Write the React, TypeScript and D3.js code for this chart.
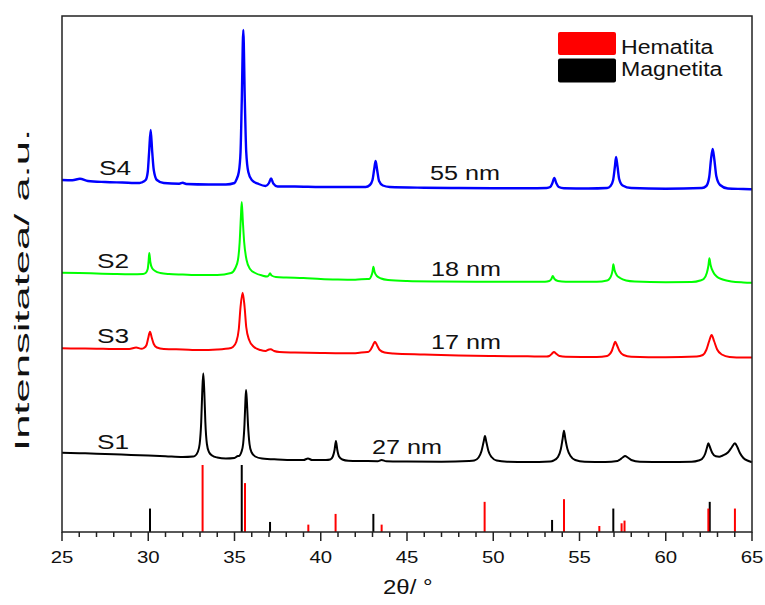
import React from "react";
import * as d3 from "d3";

// XRD patterns (2θ in degrees, intensity in a.u., stacked with offsets)
const s4: [number, number][] = [
  [25.0, 352], [25.6, 351.8], [26.04, 353.2], [26.5, 351], [27.5, 350], [28.5, 349.5], [29.5, 349],
  [29.6, 349.5], [29.85, 352], [29.97, 360], [30.05, 380], [30.14, 402], [30.23, 380], [30.32, 362], [30.5, 352], [30.9, 349],
  [31.8, 348.3], [32.0, 349.3], [32.2, 348], [33.5, 347.5], [34.5, 347.5], [35.0, 349],
  [35.1, 352], [35.25, 360], [35.35, 380], [35.42, 430], [35.51, 502], [35.6, 430], [35.68, 380], [35.8, 360], [36.0, 352], [36.4, 348],
  [36.8, 346], [37.0, 349], [37.12, 353.5], [37.25, 348.5], [37.5, 345.5],
  [38.5, 345.5], [40.0, 345], [41.5, 345], [42.6, 345],
  [42.85, 347], [43.0, 352], [43.1, 363], [43.18, 371], [43.27, 362], [43.38, 351], [43.6, 346.5], [44.0, 345],
  [46.0, 344.3], [48.0, 344], [50.0, 343.8], [52.0, 343.7], [53.1, 344],
  [53.3, 345], [53.43, 349], [53.54, 354], [53.65, 349], [53.8, 345], [54.1, 343.8],
  [55.5, 343.5], [56.6, 344],
  [56.8, 346], [56.95, 352], [57.05, 365], [57.12, 375], [57.2, 366], [57.3, 353], [57.5, 346.5], [58.0, 344],
  [60.0, 343.3], [62.1, 344],
  [62.35, 346], [62.52, 355], [62.62, 372], [62.72, 383], [62.82, 372], [62.93, 356], [63.15, 347], [63.6, 343.5],
  [64.5, 343], [65.0, 342.7],
];

const s2: [number, number][] = [
  [25.0, 259.3], [26.0, 259], [27.0, 258.5], [28.0, 258], [29.0, 257.7], [29.7, 258],
  [29.85, 259], [29.97, 263], [30.02, 271], [30.06, 279], [30.12, 270], [30.22, 264], [30.4, 261], [30.7, 259], [31.2, 258],
  [32.0, 257.5], [33.0, 257], [34.0, 257], [34.8, 259],
  [35.05, 264], [35.2, 272], [35.3, 290], [35.37, 315], [35.42, 330], [35.48, 312], [35.56, 290], [35.7, 272], [35.9, 263], [36.2, 259], [36.6, 256.5],
  [36.9, 255.5], [37.0, 257], [37.06, 258.7], [37.15, 256.5], [37.4, 255],
  [38.0, 254.5], [39.0, 254], [40.0, 253], [41.0, 252.5], [42.0, 252.3], [42.7, 253],
  [42.8, 253], [42.93, 256], [43.0, 260], [43.05, 265.3], [43.12, 260], [43.25, 256], [43.5, 253.5], [43.9, 252],
  [45.0, 251], [47.0, 250.5], [49.0, 250.3], [51.0, 250.3], [53.0, 250.3],
  [53.25, 251], [53.37, 253], [53.45, 256], [53.55, 253], [53.75, 251], [54.2, 250.3],
  [56.0, 250.3], [56.6, 251.5],
  [56.7, 252.5], [56.85, 257], [56.92, 262], [56.96, 267.7], [57.03, 262], [57.15, 257], [57.35, 254], [57.7, 251.5], [58.2, 250.5],
  [60.0, 249.8], [61.5, 250], [62.0, 251.5],
  [62.2, 253], [62.38, 259], [62.47, 266], [62.53, 273.7], [62.6, 267], [62.75, 260], [62.95, 255.5], [63.3, 252.5], [63.8, 250.5],
  [64.5, 249.6], [65.0, 249.3],
];

const s3: [number, number][] = [
  [25.0, 183.7], [26.0, 183.5], [27.0, 183.3], [28.0, 183], [28.9, 183], [29.3, 184.5], [29.6, 183.2],
  [29.75, 184], [29.9, 187], [30.0, 194], [30.1, 200.3], [30.2, 194.5], [30.32, 188], [30.5, 184.5], [30.9, 183],
  [32.0, 182.5], [33.0, 182], [34.0, 182.5], [34.8, 184],
  [34.9, 185], [35.1, 190], [35.25, 203], [35.35, 225], [35.47, 239.3], [35.58, 226], [35.68, 205], [35.85, 192], [36.1, 185.5], [36.5, 182],
  [36.8, 181], [37.0, 182.5], [37.1, 182.7], [37.3, 181], [37.6, 180],
  [38.5, 179.5], [40.0, 179], [41.0, 178.8], [42.0, 178.8], [42.7, 180],
  [42.75, 180], [42.9, 182.5], [43.02, 186.5], [43.14, 190.3], [43.27, 186.5], [43.42, 182], [43.7, 179.5], [44.2, 178.5],
  [46.0, 177.5], [48.0, 176.5], [50.0, 176], [52.0, 175.7], [53.1, 175.5],
  [53.25, 176], [53.4, 178.3], [53.52, 180], [53.65, 178.3], [53.85, 176], [54.2, 175.3],
  [56.0, 175], [56.6, 176],
  [56.7, 177], [56.87, 181], [56.97, 186], [57.07, 190.3], [57.18, 186.5], [57.32, 181], [57.55, 177], [58.0, 175.3],
  [60.0, 174.8], [61.8, 175.5],
  [62.15, 177], [62.35, 182], [62.52, 191], [62.66, 197], [62.8, 191], [62.98, 182.5], [63.25, 177.5], [63.7, 175],
  [64.5, 174.5], [65.0, 174.5],
];

const s1: [number, number][] = [
  [25.0, 79.3], [26.0, 78.8], [27.0, 78.3], [28.0, 77.7], [29.0, 77], [30.0, 76.5], [31.0, 75.8], [32.0, 75], [32.6, 75.5],
  [32.7, 76], [32.87, 80], [32.98, 88], [33.07, 110], [33.13, 140], [33.19, 158.7], [33.25, 140], [33.31, 110], [33.4, 88], [33.52, 80], [33.7, 76.5], [34.0, 74.5],
  [34.5, 73.5], [35.0, 74], [35.2, 76],
  [35.25, 76], [35.4, 80], [35.5, 88], [35.58, 108], [35.63, 130], [35.67, 142], [35.72, 130], [35.78, 108], [35.87, 88], [35.98, 80], [36.2, 75.5], [36.6, 73.5],
  [37.5, 72.5], [38.5, 72], [39.0, 72], [39.26, 73.5], [39.5, 72], [40.3, 72],
  [40.55, 72.5], [40.7, 75.5], [40.8, 82], [40.88, 91], [40.96, 82], [41.06, 75.5], [41.25, 72.5], [41.6, 71.3],
  [42.5, 71], [43.3, 70.8], [43.53, 72], [43.8, 70.8], [45.0, 70.5], [47.0, 70.3], [48.6, 71],
  [48.9, 71.5], [49.15, 74.5], [49.32, 81], [49.44, 90], [49.52, 96], [49.6, 90], [49.72, 81], [49.9, 75], [50.2, 71.5], [50.8, 70.3],
  [52.0, 70], [53.3, 70.5],
  [53.5, 71.5], [53.75, 75], [53.92, 83], [54.02, 93], [54.1, 101.3], [54.18, 93], [54.3, 83], [54.48, 76], [54.75, 72], [55.3, 70.3],
  [56.5, 70], [57.2, 71],
  [57.35, 72.5], [57.5, 74.5], [57.64, 76], [57.8, 74.5], [58.0, 72], [58.5, 70.3],
  [60.0, 70], [61.5, 70.3], [61.9, 71.5],
  [62.1, 73], [62.28, 78], [62.4, 85], [62.47, 88.7], [62.56, 85], [62.7, 79], [62.9, 75.7], [63.1, 75.3],
  [63.3, 76.5], [63.6, 79.5], [63.82, 84.5], [64.01, 88.7], [64.15, 85], [64.3, 79], [64.5, 74], [64.8, 71], [65.0, 69.7],
];

// Reference stick patterns (2θ, relative intensity %)
const hematitaPos = [33.15, 35.61, 39.28, 40.86, 43.53, 49.5, 54.1, 56.15, 57.44, 57.61, 62.47, 64.01];
const hematitaRel = [100, 73, 11, 27, 11, 45, 49, 9, 13, 17, 35, 35];
const magnetitaPos = [30.1, 35.42, 37.06, 43.05, 53.41, 56.96, 62.55];
const magnetitaRel = [35, 100, 15, 27, 18, 35, 45];

const seriesNames = ["S1", "S3", "S2", "S4"];
const sizeLabels = ["27 nm", "17 nm", "18 nm", "55 nm"];
const xTicks = [25, 30, 35, 40, 45, 50, 55, 60, 65];

const W = 765;
const H = 605;
const m = { left: 62, right: 752, top: 16, bottom: 532 };

export default function App() {
  const x = d3.scaleLinear().domain([25, 65]).range([m.left, m.right]);
  const y = d3.scaleLinear().domain([0, 516]).range([m.bottom, m.top]);
  const ySticks = d3.scaleLinear().domain([0, 100]).range([m.bottom, 465]);

  const line = d3
    .line<[number, number]>()
    .x((d) => x(d[0]))
    .y((d) => y(d[1]))
    .curve(d3.curveMonotoneX);

  const traces = [
    { data: s1, color: "#000000", w: 2 },
    { data: s3, color: "#ff0000", w: 2 },
    { data: s2, color: "#00ff00", w: 2 },
    { data: s4, color: "#0000ff", w: 2.4 },
  ];

  const nameLabels = [
    { t: seriesNames[0], x: 97, y: 449 },
    { t: seriesNames[1], x: 97, y: 343 },
    { t: seriesNames[2], x: 97, y: 268 },
    { t: seriesNames[3], x: 99, y: 175 },
  ];
  const nmLabels = [
    { t: sizeLabels[0], x: 372, y: 454 },
    { t: sizeLabels[1], x: 431, y: 349 },
    { t: sizeLabels[2], x: 431, y: 276 },
    { t: sizeLabels[3], x: 430, y: 180 },
  ];

  const minorTicks = d3.range(25, 66, 1).filter((v) => v % 5 !== 0);
  const font = "'Liberation Sans', Arial, sans-serif";

  return (
    <svg
      width={W}
      height={H}
      style={{ position: "absolute", left: 0, top: 0, background: "#fff" }}
      fontFamily={font}
    >
      {/* reference sticks */}
      {magnetitaPos.map((p, i) => (
        <line key={"m" + i} x1={x(p)} x2={x(p)} y1={ySticks(0)} y2={ySticks(magnetitaRel[i])} stroke="#000" strokeWidth={2} />
      ))}
      {hematitaPos.map((p, i) => (
        <line key={"h" + i} x1={x(p)} x2={x(p)} y1={ySticks(0)} y2={ySticks(hematitaRel[i])} stroke="#ff0000" strokeWidth={2} />
      ))}

      {/* patterns */}
      {traces.map((t, i) => (
        <path key={i} d={line(t.data) || ""} fill="none" stroke={t.color} strokeWidth={t.w} strokeLinejoin="round" />
      ))}

      {/* frame */}
      <rect x={m.left} y={m.top} width={m.right - m.left} height={m.bottom - m.top} fill="none" stroke="#222" strokeWidth={1.5} />

      {/* bottom ticks */}
      {xTicks.map((v) => (
        <g key={"t" + v}>
          <line x1={x(v)} x2={x(v)} y1={m.bottom} y2={m.bottom + 9} stroke="#222" strokeWidth={1.5} />
          <text transform={`translate(${x(v)},${563}) scale(1.2,1)`} textAnchor="middle" fontSize={17} fill="#111">
            {v}
          </text>
        </g>
      ))}
      {minorTicks.map((v) => (
        <line key={"mt" + v} x1={x(v)} x2={x(v)} y1={m.bottom} y2={m.bottom + 5} stroke="#222" strokeWidth={1.5} />
      ))}

      {/* axis titles */}
      <text transform={`translate(383,594) scale(1.2,1)`} fontSize={20} fill="#111">
        2θ/ °
      </text>
      <text
        transform={`translate(29,290) rotate(-90)`}
        textAnchor="middle"
        fontSize={21}
        fill="#111"
        textLength={322}
        lengthAdjust="spacingAndGlyphs"
      >
        Intensitatea/ a.u.
      </text>

      {/* series labels */}
      {nameLabels.map((l) => (
        <text key={l.t} transform={`translate(${l.x},${l.y}) scale(1.25,1)`} fontSize={21} fill="#111">
          {l.t}
        </text>
      ))}
      {nmLabels.map((l) => (
        <text key={l.t} transform={`translate(${l.x},${l.y}) scale(1.2,1)`} fontSize={21} fill="#111">
          {l.t}
        </text>
      ))}

      {/* legend */}
      <rect x={558} y={32} width={58} height={23} rx={2} fill="#ff0000" />
      <rect x={558} y={58.5} width={58} height={24} rx={2} fill="#000" />
      <text transform={`translate(621,54) scale(1.1,1)`} fontSize={21} fill="#111">
        Hematita
      </text>
      <text transform={`translate(621,76) scale(1.1,1)`} fontSize={21} fill="#111">
        Magnetita
      </text>
    </svg>
  );
}
